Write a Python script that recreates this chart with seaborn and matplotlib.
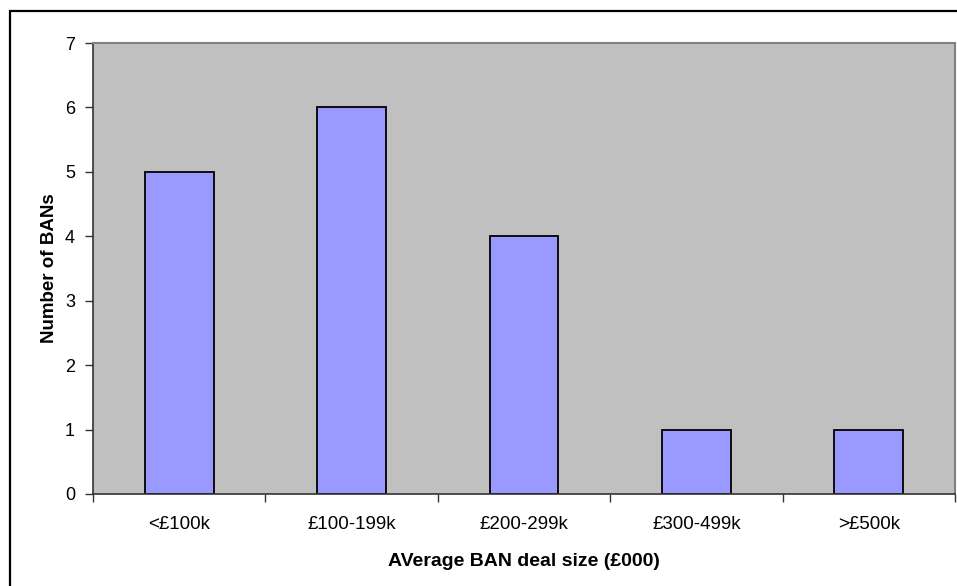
import numpy as np
import pandas as pd
import matplotlib
matplotlib.use("Agg")
import matplotlib.pyplot as plt
from matplotlib.patches import Rectangle
import seaborn as sns

# Data
categories = ["<£100k", "£100-199k", "£200-299k", "£300-499k", ">£500k"]
counts = [5, 6, 4, 1, 1]
y_ticks = [0, 1, 2, 3, 4, 5, 6, 7]

df = pd.DataFrame({"Deal size": categories, "Number of BANs": counts})

sns.set_style("white")
plt.rcParams["font.family"] = ["Liberation Sans", "DejaVu Sans"]
plt.rcParams["text.color"] = "black"
plt.rcParams["axes.labelcolor"] = "black"

fig = plt.figure(figsize=(9.57, 5.86), dpi=100)
ax = fig.add_axes([93 / 957, 92 / 586, (955 - 93) / 957, (494 - 43) / 586])

sns.barplot(data=df, x="Deal size", y="Number of BANs", order=categories,
            color="#9999FF", saturation=1, width=0.4,
            edgecolor="black", linewidth=1.3, ax=ax)

ax.set_facecolor("#C0C0C0")
ax.set_xlim(-0.5, len(categories) - 0.5)
ax.set_ylim(0, 7)
ax.set_yticks(y_ticks)

# category ticks sit between bars
ax.set_xticks(np.arange(-0.5, len(categories), 1.0), minor=True)
ax.tick_params(axis="x", which="major", bottom=False, length=0, pad=16,
               labelsize=13.5, labelcolor="black")
ax.tick_params(axis="x", which="minor", bottom=True, length=6, width=1,
               direction="out", color="#333333")
ax.tick_params(axis="y", left=True, length=6, width=1, direction="out",
               color="#333333", pad=7, labelsize=13, labelcolor="black")

for side in ["left", "bottom"]:
    ax.spines[side].set_color("#333333")
    ax.spines[side].set_linewidth(1.2)
for side in ["top", "right"]:
    ax.spines[side].set_visible(True)
    ax.spines[side].set_color("#808080")
    ax.spines[side].set_linewidth(1.5)

ax.set_xlabel("AVerage BAN deal size (£000)", fontsize=14, fontweight="bold", labelpad=14)
ax.set_ylabel("Number of BANs", fontsize=13.5, fontweight="bold", labelpad=5)

# chart frame (cut off on the right and bottom)
fig.patches.append(Rectangle((10 / 957, -0.05), 1.0, (586 - 11) / 586 + 0.05,
                             transform=fig.transFigure, fill=False,
                             edgecolor="black", linewidth=1.6))

fig.savefig("out.png", dpi=100)
